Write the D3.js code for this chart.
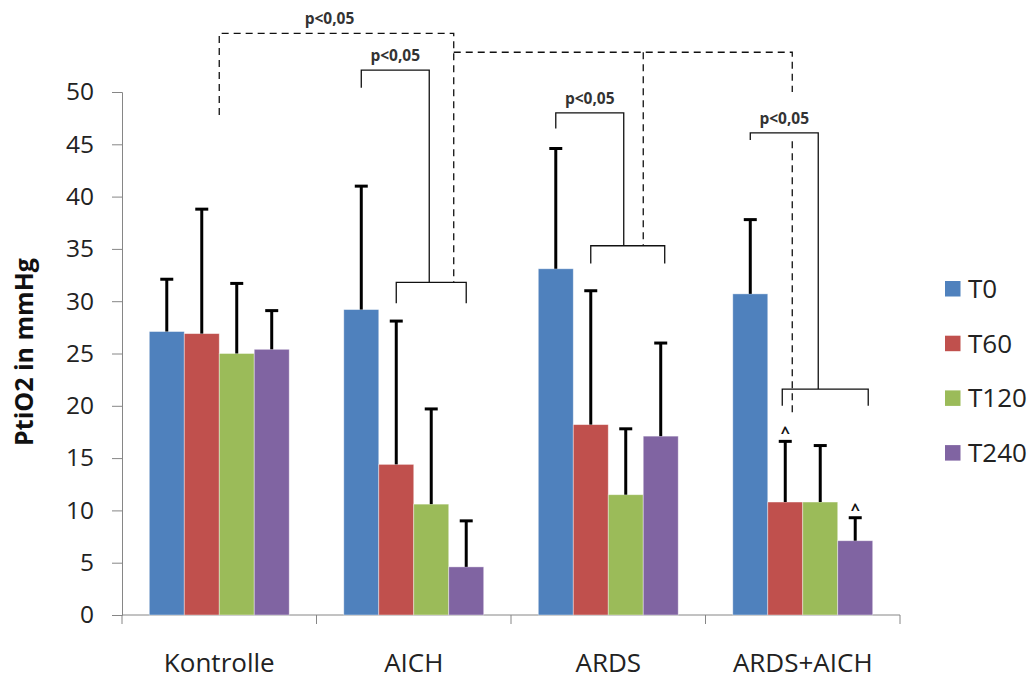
<!DOCTYPE html>
<html>
<head>
<meta charset="utf-8">
<script src="https://cdn.jsdelivr.net/npm/d3@7"></script>
<style>
  body { margin: 0; background: #fff; }
  text { font-family: "Open Sans", "Noto Sans", sans-serif; }
</style>
</head>
<body>
<div id="chart"></div>
<script>
// data
var categories = ["Kontrolle", "AICH", "ARDS", "ARDS+AICH"];
var series = ["T0", "T60", "T120", "T240"];
var colors = ["#4F81BD", "#C0504D", "#9BBB59", "#8064A2"];

// mean per category, one array per timepoint
var t0   = [27.1, 29.2, 33.1, 30.7];
var t60  = [26.9, 14.4, 18.2, 10.8];
var t120 = [25.0, 10.6, 11.5, 10.8];
var t240 = [25.4,  4.6, 17.1,  7.1];

// upper end of error bars
var t0Err   = [32.1, 41.0, 44.6, 37.8];
var t60Err  = [38.8, 28.1, 31.0, 16.6];
var t120Err = [31.7, 19.7, 17.8, 16.2];
var t240Err = [29.1,  9.0, 26.0,  9.3];

var yTicks = [0, 5, 10, 15, 20, 25, 30, 35, 40, 45, 50];

// markers "^" (category index, series index)
var carets = [[3, 1], [3, 3]];

var means = [t0, t60, t120, t240];
var errs = [t0Err, t60Err, t120Err, t240Err];

var width = 1035, height = 680;
var svg = d3.select("#chart").append("svg")
    .attr("width", width)
    .attr("height", height);

var x0 = d3.scaleBand().domain(categories).range([122, 900]);
var x1 = d3.scaleBand().domain(series).range([0, x0.bandwidth()]).paddingOuter(0.78);
var y = d3.scaleLinear().domain([0, 50]).range([615, 92]);

function cx(ci, si) {
  return x0(categories[ci]) + x1(series[si]) + x1.bandwidth() / 2;
}
function mid(ci) {
  return x0(categories[ci]) + x0.bandwidth() / 2;
}

// y axis
var yAxis = svg.append("g")
    .attr("transform", "translate(122,0)")
    .call(d3.axisLeft(y).tickValues(yTicks).tickSize(10).tickPadding(18));
yAxis.select(".domain").attr("stroke", "#868686");
yAxis.selectAll(".tick line").attr("stroke", "#868686");
yAxis.selectAll(".tick text")
    .style("font-size", "24.5px")
    .attr("fill", "#222");

// x axis
var xAxis = svg.append("g")
    .attr("transform", "translate(0,615)");
xAxis.append("line")
    .attr("x1", 122).attr("x2", 900)
    .attr("stroke", "#868686");
xAxis.selectAll(".xt")
    .data(categories.concat(["end"]))
    .enter().append("line")
    .attr("x1", function(d, i) { return i < 4 ? x0(d) : x0.range()[1]; })
    .attr("x2", function(d, i) { return i < 4 ? x0(d) : x0.range()[1]; })
    .attr("y1", 0).attr("y2", 9)
    .attr("stroke", "#868686");
xAxis.selectAll(".xl")
    .data(categories)
    .enter().append("text")
    .attr("x", function(d) { return mid(categories.indexOf(d)); })
    .attr("y", 57)
    .attr("text-anchor", "middle")
    .style("font-size", "26px")
    .attr("fill", "#222")
    .text(function(d) { return d; });

// y title
svg.append("text")
    .attr("transform", "translate(33,352) rotate(-90)")
    .attr("text-anchor", "middle")
    .style("font-size", "25px")
    .style("font-weight", "bold")
    .attr("fill", "#111")
    .text("PtiO2 in mmHg");

// bars
var barData = [];
means.forEach(function(arr, si) {
  arr.forEach(function(v, ci) {
    barData.push({ ci: ci, si: si, v: v, e: errs[si][ci] });
  });
});

svg.append("g").selectAll("rect")
    .data(barData)
    .enter().append("rect")
    .attr("x", function(d) { return x0(categories[d.ci]) + x1(series[d.si]); })
    .attr("y", function(d) { return y(d.v); })
    .attr("width", x1.bandwidth())
    .attr("height", function(d) { return y(0) - y(d.v); })
    .attr("fill", function(d) { return colors[d.si]; })
    .attr("stroke", "#ffffff")
    .attr("stroke-opacity", 0.5)
    .attr("stroke-width", 0.8);

// error bars
var eb = svg.append("g").attr("stroke", "#000").attr("stroke-width", 3);
eb.selectAll(".v")
    .data(barData)
    .enter().append("line")
    .attr("x1", function(d) { return cx(d.ci, d.si); })
    .attr("x2", function(d) { return cx(d.ci, d.si); })
    .attr("y1", function(d) { return y(d.v); })
    .attr("y2", function(d) { return y(d.e); });
eb.selectAll(".c")
    .data(barData)
    .enter().append("line")
    .attr("x1", function(d) { return cx(d.ci, d.si) - 6.5; })
    .attr("x2", function(d) { return cx(d.ci, d.si) + 6.5; })
    .attr("y1", function(d) { return y(d.e); })
    .attr("y2", function(d) { return y(d.e); });

// carets
svg.append("g").selectAll("text")
    .data(carets)
    .enter().append("text")
    .attr("x", function(d) { return cx(d[0], d[1]); })
    .attr("y", function(d) { return y(errs[d[1]][d[0]]) - 3; })
    .attr("text-anchor", "middle")
    .style("font-size", "16px")
    .style("font-weight", "bold")
    .attr("fill", "#111")
    .text("^");

// significance brackets
var ann = svg.append("g").attr("fill", "none").attr("stroke", "#111").attr("stroke-width", 1.3);

function path(pts, dashed) {
  ann.append("path")
    .attr("d", d3.line()(pts))
    .attr("stroke-dasharray", dashed ? "7,5" : null);
}
function label(px, py) {
  svg.append("text")
    .attr("x", px).attr("y", py)
    .attr("text-anchor", "middle")
    .style("font-size", "15.5px")
    .style("font-weight", "bold")
    .attr("fill", "#333")
    .text("p<0,05");
}

// within-group brackets: T0 vs T60..T240
function groupBracket(ci, topV, leftV, lowV, endV, leftPad, rightPad) {
  var xl = cx(ci, 0);
  var xr = cx(ci, 2) - 2;
  var sl = cx(ci, 1) + leftPad, sr = cx(ci, 3) + rightPad;
  path([[xl, y(leftV)], [xl, y(topV)], [xr, y(topV)], [xr, y(lowV)]], false);
  path([[sl, y(endV)], [sl, y(lowV)], [sr, y(lowV)], [sr, y(endV)]], false);
  label((xl + xr) / 2, y(topV) - 9);
}
groupBracket(1, 52.1, 50.4, 31.8, 29.8, 0, 0);
groupBracket(2, 48.0, 46.5, 35.3, 33.6, 0, 4);
groupBracket(3, 46.1, 45.4, 21.6, 20.0, -3, 13);

// dashed between-group brackets
var xA = (cx(1, 2) + cx(1, 3)) / 2 + 5;
var xK = mid(0);
path([[xK, y(47.8)], [xK, y(55.6)], [xA, y(55.6)], [xA, y(31.8)]], true);
label((xK + xA) / 2 - 7, y(55.6) - 9);

var xB = (cx(2, 2) + cx(2, 1)) / 2 + 35;
var xC = cx(3, 1) + 7;
path([[xA, y(53.8)], [xC, y(53.8)], [xC, y(50.0)]], true);
path([[xB, y(53.8)], [xB, y(35.3)]], true);
path([[xC, y(45.3)], [xC, y(18.9)]], true);

// legend
var lg = svg.append("g").selectAll("g")
    .data(series)
    .enter().append("g")
    .attr("transform", function(d, i) { return "translate(945," + (281 + i * 54.7) + ")"; });
lg.append("rect")
    .attr("width", 15.5).attr("height", 15.5)
    .attr("fill", function(d, i) { return colors[i]; });
lg.append("text")
    .attr("x", 23).attr("y", 17)
    .style("font-size", "26px")
    .attr("fill", "#222")
    .text(function(d) { return d; });
</script>
</body>
</html>
